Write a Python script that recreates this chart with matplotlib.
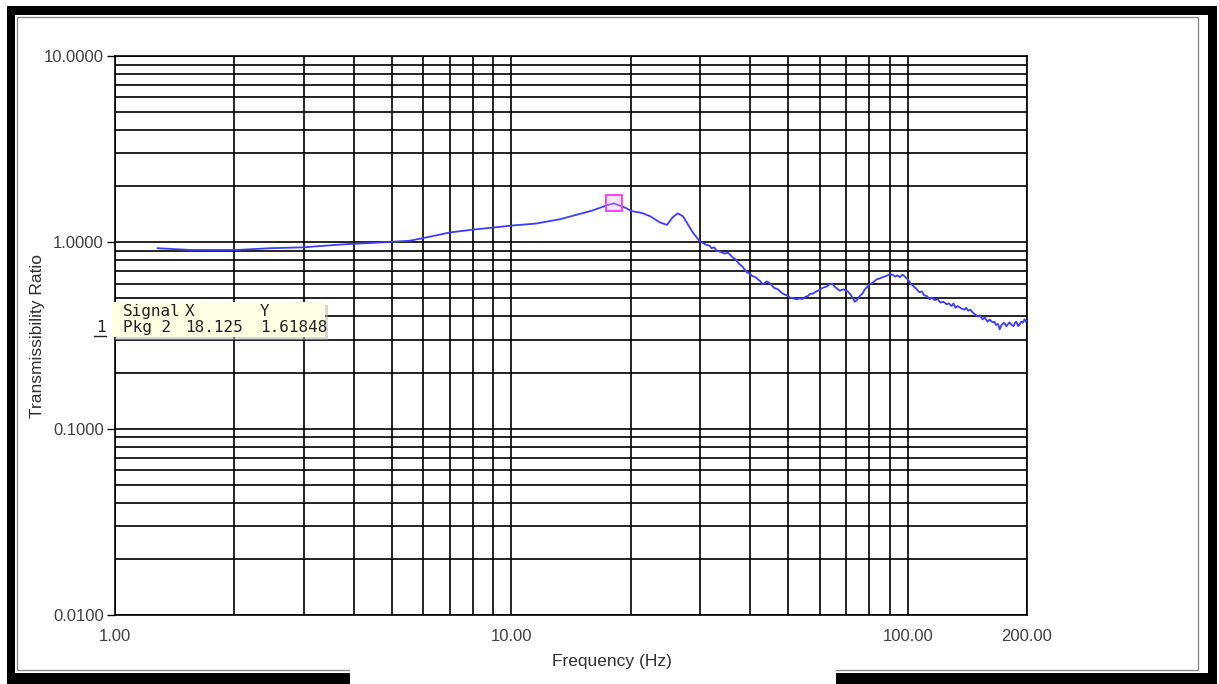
import numpy as np
import matplotlib
matplotlib.use("Agg")
import matplotlib.pyplot as plt
from matplotlib.patches import Rectangle
from matplotlib.ticker import FixedLocator, LogLocator, NullFormatter

plt.rcParams['font.family'] = ['Liberation Sans', 'DejaVu Sans']

# transmissibility curve
freq = [1.28, 1.55, 2.03, 2.46, 2.98, 3.76, 4.74, 5.55, 6.2, 7.0, 8.0, 9.0, 10.0,
        11.5, 13.25, 14.5, 16.0, 17.4, 18.125, 19.3, 20.1, 20.9, 21.5, 22.4, 23.7,
        24.7, 25.5, 26.3, 27.1, 28.7, 29.9, 30.5, 31.0, 31.6, 32.0, 32.5, 33.0,
        33.7, 34.5, 35.2, 36.2, 36.8, 37.5, 38.3, 39.3, 40.0, 40.5, 41.3, 42.4,
        43.1, 44.1, 45.0, 46.0, 47.0, 48.4, 49.5, 50.5, 51.5, 52.5, 53.4, 54.3,
        55.2, 56.0, 56.8, 57.6, 58.8, 60.0, 61.0, 62.5, 63.5, 64.7, 65.3, 66.0,
        67.4, 68.8, 70.6, 72.0, 72.8, 73.5, 74.5, 75.7, 76.8, 78.0, 79.0, 80.2,
        81.8, 83.5, 85.0, 86.5, 88.3, 90.1, 91.5, 93.0, 94.3, 95.5, 97.0, 98.0,
        99.0, 100.0, 101.8, 103.5, 105.0, 107.0, 108.5, 110.0, 111.8, 113.6,
        115.0, 117.0, 119.0, 121.0, 123.0, 125.4, 127.0, 129.0, 130.5, 132.0,
        133.6, 135.2, 137.0, 139.0, 140.5, 142.0, 144.0, 145.8, 148.0, 150.0,
        152.0, 154.5, 156.5, 159.0, 161.0, 163.8, 165.5, 167.0, 169.0, 170.6,
        172.5, 175.0, 177.5, 180.7, 183.0, 185.0, 186.5, 188.0, 190.0, 191.6,
        193.5, 195.0, 197.2, 198.5, 200.0]
ratio = [0.93, 0.91, 0.91, 0.93, 0.94, 0.975, 1.0, 1.02, 1.07, 1.13, 1.17, 1.20, 1.23,
         1.26, 1.33, 1.40, 1.48, 1.58, 1.618, 1.54, 1.47, 1.45, 1.43, 1.38, 1.28,
         1.24, 1.36, 1.43, 1.38, 1.13, 1.01, 0.99, 0.97, 0.96, 0.93, 0.94, 0.90,
         0.89, 0.87, 0.88, 0.83, 0.81, 0.77, 0.74, 0.69, 0.68, 0.66, 0.65, 0.62,
         0.595, 0.617, 0.60, 0.57, 0.56, 0.53, 0.52, 0.505, 0.50, 0.494, 0.50, 0.496,
         0.51, 0.515, 0.53, 0.53, 0.545, 0.555, 0.57, 0.58, 0.595, 0.60, 0.58, 0.57,
         0.55, 0.56, 0.545, 0.52, 0.50, 0.48, 0.49, 0.515, 0.53, 0.56, 0.575, 0.595,
         0.61, 0.633, 0.64, 0.65, 0.66, 0.675, 0.67, 0.655, 0.665, 0.65, 0.67, 0.66,
         0.645, 0.635, 0.60, 0.58, 0.565, 0.54, 0.545, 0.52, 0.515, 0.495,
         0.505, 0.49, 0.495, 0.475, 0.48, 0.465, 0.47, 0.455, 0.47, 0.445,
         0.455, 0.448, 0.44, 0.435, 0.445, 0.43, 0.435, 0.421, 0.41, 0.40,
         0.405, 0.386, 0.395, 0.375, 0.385, 0.372, 0.375, 0.36, 0.365, 0.341,
         0.36, 0.37, 0.355, 0.372, 0.36, 0.355, 0.37, 0.375, 0.355, 0.363,
         0.375, 0.37, 0.386, 0.375, 0.38]

cursor_x = 18.125
cursor_y = 1.61848

xticks = [1, 10, 100, 200]
xlabels = ['1.00', '10.00', '100.00', '200.00']
yticks = [0.01, 0.1, 1, 10]
ylabels = ['0.0100', '0.1000', '1.0000', '10.0000']

W, H = 1219, 684
fig = plt.figure(figsize=(W / 100, H / 100), dpi=100)

# background frame (pixel coords)
bg = fig.add_axes([0, 0, 1, 1], zorder=-1)
bg.set_xlim(0, W)
bg.set_ylim(H, 0)
bg.axis('off')
for (x0, y0, x1, y1) in [(7, 6, 1217, 15), (7, 6, 15, 684), (1208, 6, 1217, 684), (7, 673, 1217, 684)]:
    bg.add_patch(Rectangle((x0, y0), x1 - x0, y1 - y0, color='black', lw=0))
bg.add_patch(Rectangle((17, 17), 1198 - 17, 670 - 17, fill=False, ec='#8a8a8a', lw=1))
bg.add_patch(Rectangle((350, 648), 836 - 350, 40, color='white', lw=0))

ax = fig.add_axes([115 / W, 1 - 615 / H, (1027 - 115) / W, (615 - 56) / H])
ax.set_xscale('log')
ax.set_yscale('log')
ax.set_xlim(1, 200)
ax.set_ylim(0.01, 10)

ax.xaxis.set_major_locator(FixedLocator(xticks))
ax.set_xticklabels(xlabels)
ax.xaxis.set_minor_locator(LogLocator(base=10, subs=np.arange(2, 10)))
ax.xaxis.set_minor_formatter(NullFormatter())
ax.yaxis.set_major_locator(FixedLocator(yticks))
ax.set_yticklabels(ylabels)
ax.yaxis.set_minor_locator(LogLocator(base=10, subs=np.arange(2, 10)))
ax.yaxis.set_minor_formatter(NullFormatter())

ax.grid(which='both', color='black', linewidth=1.2)
ax.tick_params(axis='x', which='both', length=0, pad=10, labelsize=12, labelcolor='#404040')
ax.tick_params(axis='y', which='major', length=6, width=1, pad=2, labelsize=12, labelcolor='#404040')
ax.tick_params(axis='y', which='minor', length=0)
for s in ax.spines.values():
    s.set_color('black')
    s.set_linewidth(1.2)

ax.plot(freq, ratio, color='#3c3cff', lw=1.3, zorder=3)
ax.plot([cursor_x], [cursor_y], marker='s', ms=12, mfc=(1, 0.7, 1, 0.35),
        mec='#ff33ee', mew=1.3, zorder=4)

ax.set_xlabel('Frequency (Hz)', fontsize=12.5, color='#303030')
ax.xaxis.set_label_coords((612 - 115) / (1027 - 115), -(654 - 615) / (615 - 56))
ax.set_ylabel('Transmissibility Ratio', fontsize=12.5, color='#303030')
ax.yaxis.set_label_coords(-(115 - 45) / (1027 - 115), 0.5)

# cursor tooltip
top = fig.add_axes([0, 0, 1, 1], zorder=5)
top.set_xlim(0, W)
top.set_ylim(H, 0)
top.axis('off')
top.patch.set_visible(False)
top.add_patch(Rectangle((115, 305), 213, 35, color='#b0b0b0', alpha=0.5, lw=0))
top.add_patch(Rectangle((112, 302), 213, 35, color='#ffffe3', lw=0))
mono = dict(family='DejaVu Sans Mono', fontsize=11.5, color='#222222', va='baseline')
top.text(123, 316, 'Signal', **mono)
top.text(185, 316, 'X', **mono)
top.text(260, 316, 'Y', **mono)
top.text(96, 332, '1', **mono)
top.plot([94, 106], [336, 336], color='#222222', lw=1)
top.text(123, 332, 'Pkg 2', **mono)
top.text(185, 332, '%.3f' % cursor_x, **mono)
top.text(260, 332, '%.5f' % cursor_y, **mono)

fig.savefig('out.png', dpi=100)
